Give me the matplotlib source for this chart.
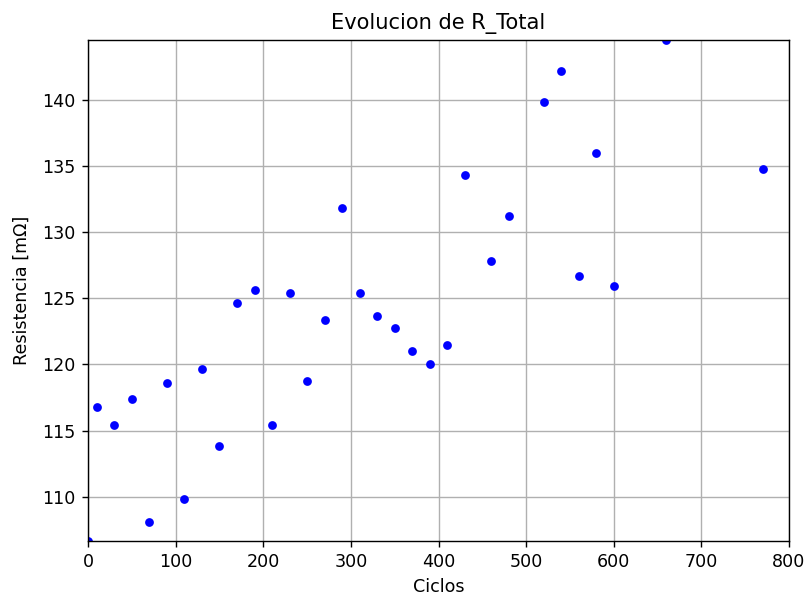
import matplotlib
matplotlib.use("Agg")
import matplotlib.pyplot as plt

ciclos = [0, 10, 30, 50, 70, 90, 110, 130, 150, 170, 190, 210, 230, 250, 270,
          290, 310, 330, 350, 370, 390, 410, 430, 460, 480, 520, 540, 560, 580,
          600, 660, 770]
r_total = [106.66, 116.79, 115.41, 117.39, 108.07, 118.62, 109.80, 119.63,
           113.83, 124.63, 125.61, 115.41, 125.40, 118.73, 123.35, 131.79,
           125.40, 123.67, 122.74, 121.01, 120.00, 121.48, 134.35, 127.79,
           131.21, 139.85, 142.19, 126.68, 136.00, 125.91, 144.52, 134.75]

DPI = 126
fig = plt.figure(figsize=(809 / DPI, 595 / DPI), dpi=DPI)
ax = fig.add_axes([0.1088, 0.0908, 0.8665, 0.842])
ax.plot(ciclos, r_total, "bo", markersize=4)
ax.set_xlim(0, 800)
ax.set_ylim(min(r_total), max(r_total))
ax.grid(True)
ax.set_title("Evolucion de R_Total", fontsize=12)
ax.set_xlabel("Ciclos")
ax.set_ylabel("Resistencia [mΩ]", labelpad=6.5)
fig.savefig("out.png", dpi=DPI)
